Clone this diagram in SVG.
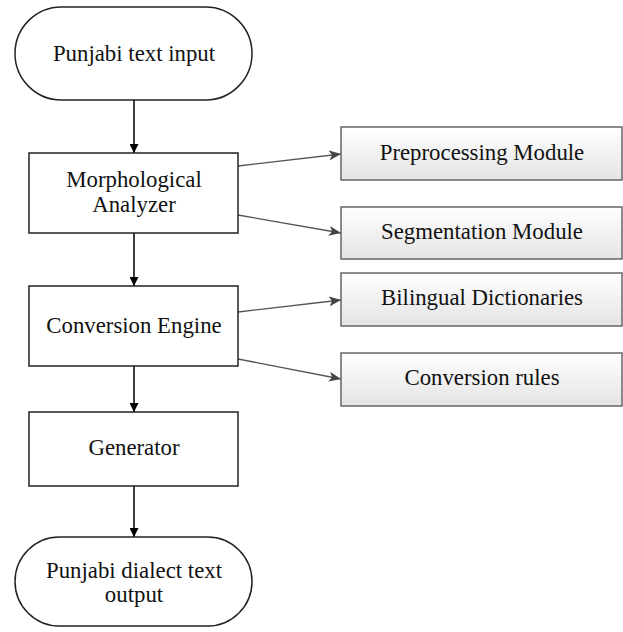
<svg xmlns="http://www.w3.org/2000/svg" width="623" height="632" viewBox="0 0 623 632">
<defs>
<linearGradient id="g" x1="0" y1="0" x2="0" y2="1">
<stop offset="0" stop-color="#ffffff"/>
<stop offset="1" stop-color="#e4e4e4"/>
</linearGradient>
<marker id="ah" viewBox="0 0 10 10" refX="10" refY="5" markerWidth="9" markerHeight="9" markerUnits="userSpaceOnUse" orient="auto">
<path d="M0,0 L10,5 L0,10 Z" fill="#000"/>
</marker>
<marker id="ahg" viewBox="0 0 12 10" refX="12" refY="5" markerWidth="12" markerHeight="10" markerUnits="userSpaceOnUse" orient="auto">
<path d="M0,0 L12,5 L0,10 L3,5 Z" fill="#444"/>
</marker>
</defs>
<style>
.t{font-family:"Liberation Serif","Times New Roman",serif;font-size:22.8px;fill:#111;text-anchor:middle}
.n{fill:#fff;stroke:#222;stroke-width:1.5}
.m{fill:url(#g);stroke:#666;stroke-width:1.5}
.c{stroke:#000;stroke-width:1.5;fill:none}
.cg{stroke:#555;stroke-width:1.3;fill:none}
</style>
<rect width="623" height="632" fill="#fff"/>
<g id="connectors">
<line class="c" x1="134" y1="100" x2="134" y2="153" marker-end="url(#ah)"/>
<line class="c" x1="134" y1="233" x2="134" y2="286" marker-end="url(#ah)"/>
<line class="c" x1="134" y1="366" x2="134" y2="412" marker-end="url(#ah)"/>
<line class="c" x1="134" y1="486" x2="134" y2="537" marker-end="url(#ah)"/>
<line class="cg" x1="238" y1="166" x2="341" y2="154" marker-end="url(#ahg)"/>
<line class="cg" x1="238" y1="215" x2="341" y2="233" marker-end="url(#ahg)"/>
<line class="cg" x1="238" y1="312" x2="341" y2="300" marker-end="url(#ahg)"/>
<line class="cg" x1="238" y1="359" x2="341" y2="379" marker-end="url(#ahg)"/>
</g>
<g id="input">
<rect class="n" x="15" y="7" width="237" height="93" rx="46.5" ry="46.5"/>
<text class="t" x="134" y="61">Punjabi text input</text>
</g>
<g id="morph">
<rect class="n" x="29" y="153" width="209" height="80"/>
<text class="t" x="134" y="187">Morphological</text>
<text class="t" x="134" y="212">Analyzer</text>
</g>
<g id="conv">
<rect class="n" x="29" y="286" width="209" height="80"/>
<text class="t" x="134" y="333">Conversion Engine</text>
</g>
<g id="gen">
<rect class="n" x="29" y="412" width="209" height="74"/>
<text class="t" x="134" y="455">Generator</text>
</g>
<g id="output">
<rect class="n" x="15" y="537" width="237" height="89" rx="44.5" ry="44.5"/>
<text class="t" x="134" y="578">Punjabi dialect text</text>
<text class="t" x="134" y="602">output</text>
</g>
<g id="prep">
<rect class="m" x="341" y="127" width="281" height="53"/>
<text class="t" x="482" y="160">Preprocessing Module</text>
</g>
<g id="seg">
<rect class="m" x="341" y="207" width="281" height="52"/>
<text class="t" x="482" y="239">Segmentation Module</text>
</g>
<g id="bil">
<rect class="m" x="341" y="273" width="281" height="53"/>
<text class="t" x="482" y="305">Bilingual Dictionaries</text>
</g>
<g id="rules">
<rect class="m" x="341" y="353" width="281" height="53"/>
<text class="t" x="482" y="385">Conversion rules</text>
</g>
</svg>
